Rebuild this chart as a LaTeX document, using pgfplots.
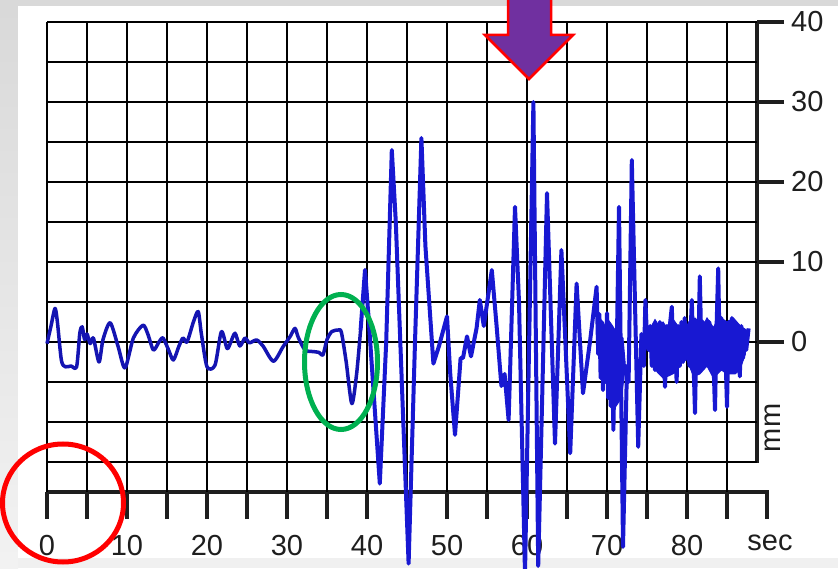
\documentclass[border=0pt]{standalone}
\usepackage{pgfplots}
\pgfplotsset{compat=1.18}
\usepackage{fontspec}
\setmainfont{Liberation Sans}
\definecolor{bggray}{HTML}{D9D9D9}
\definecolor{wave}{RGB}{24,24,210}
\definecolor{arrowpurple}{HTML}{7030A0}
\definecolor{ringgreen}{HTML}{00B050}
\definecolor{ringred}{HTML}{FF0000}
\definecolor{labelgray}{HTML}{1E1E1E}
\begin{document}
\begin{tikzpicture}[x=1pt,y=1pt]
\path[use as bounding box] (0,0) rectangle (838,568);
\clip (0,0) rectangle (838,568);
% background
\fill[bggray] (0,0) rectangle (838,568);
\shade[top color=bggray, bottom color=white!95!black] (0,0) rectangle (18,562);
\fill[white!94!black] (18,0) rectangle (838,10);
\fill[white] (18,10) rectangle (838,562);
% axis lines that pgfplots does not draw here
\draw[line width=4.5pt, labelgray] (47,76) -- (769.25,76);
\draw[line width=4pt, labelgray] (767,78) -- (767,49);
\draw[line width=4.5pt, labelgray] (757,547) -- (757,105);
\node[anchor=base, inner sep=0pt, text=labelgray, font=\fontsize{29}{34}\selectfont] at (770,18) {sec};
\node[rotate=90, inner sep=0pt, text=labelgray, font=\fontsize{29}{34}\selectfont] at (773,140) {mm};

\begin{axis}[
  scale only axis, width=710pt, height=470pt,
  at={(47pt,76pt)}, anchor=south west,
  xmin=0, xmax=88.75, ymin=-18.75, ymax=40,
  xtick={0,5,...,85},
  xticklabels={0,,10,,20,,30,,40,,50,,60,,70,,80,},
  ytick={0,10,...,40},
  yticklabels={0,10,20,30,40},
  extra y ticks={-15,-10,-5,5,15,25,35},
  extra y tick labels={},
  extra y tick style={grid=major, major tick length=0pt},
  xtick pos=bottom, ytick pos=right,
  xticklabel pos=lower, yticklabel pos=right,
  tick align=outside,
  major tick length=27pt,
  tick style={line width=4pt, draw=labelgray},
  grid=major, grid style={black, line width=2pt},
  axis line style={draw=none},
  xticklabel style={anchor=north, inner sep=0pt, yshift=-16pt, text=labelgray, font=\fontsize{29}{34}\selectfont},
  yticklabel style={anchor=west, inner sep=0pt, xshift=7pt, text=labelgray, font=\fontsize{29}{34}\selectfont},
  clip=false,
]
% quiet part: smooth oscillations
\addplot[wave!85!black, line width=3.5pt, line join=round, smooth, tension=0.45, mark=none] coordinates {
(0.0,-0.2) (0.5,2.0) (1.0,4.2) (1.3,2.5) (1.8,-2.3) (2.3,-3.1) (3.0,-3.0) (3.7,-3.1)
(4.1,1.1) (4.4,1.9) (4.7,0.3) (5.0,1.0) (5.4,-0.2) (5.8,0.5) (6.5,-2.5) (7.0,0.3)
(7.9,2.4) (8.9,-0.6) (9.75,-3.25) (10.8,0.5) (12.0,2.1) (12.6,1.0) (13.3,-1.0)
(14.0,0.0) (14.5,0.5) (15.2,-1.0) (15.8,-2.25) (16.5,-0.5) (17.0,0.5) (17.5,0.0)
(18.3,2.5) (18.9,3.8) (19.3,1.0) (20.0,-3.1) (21.0,-2.9) (21.8,1.3) (22.5,-0.8)
(22.9,-0.2) (23.5,1.1) (24.1,-0.5) (24.75,0.5) (25.3,-0.1) (26.2,0.25) (27.0,-0.5)
(28.3,-2.4) (29.5,-0.6) (30.4,0.7) (31.0,1.7) (31.4,0.6) (32.25,-1.0) (33.3,-1.2)
(34.0,-1.3) (34.5,-1.6) (35.0,0.3) (35.6,1.3) (36.4,1.5) (36.8,1.2) (37.4,-2.5)
(38.1,-7.7) (38.7,-4.0) (39.2,1.5)
};
% strong motion
\addplot[wave, line width=4pt, line join=round, mark=none] coordinates {
(39.2,1.5) (39.75,9.0) (40.2,3.0) (41.6,-17.7) (42.4,0.0)
(43.1,24.0) (43.6,15.0) (45.2,-27.7) (46.0,0.0) (46.8,25.5) (47.3,12.0) (48.3,-2.7)
(49.0,-0.5) (50.0,3.2) (50.4,-3.9) (51.0,-11.6) (51.7,-2.0) (52.0,-2.0) (52.5,0.7)
(53.0,-1.8) (53.7,1.75) (54.1,5.25) (54.6,2.0) (55.6,9.0) (56.2,2.0) (56.8,-5.5)
(57.2,-4.0) (57.7,-9.75) (58.5,16.9) (59.0,5.0) (59.75,-29.0) (60.8,30.0)
(61.4,-28.0) (62.5,18.6) (63.5,-12.7) (64.3,11.5) (65.4,-13.9) (66.2,7.3)
(67.0,-6.4) (67.9,0.25) (68.7,6.9) (68.9,-1.5) (69.05,3.5) (69.2,-4.5) (69.35,2.5)
(69.5,-6.0) (69.65,1.5) (69.8,-5.0) (70.0,3.6) (70.15,-7.0) (70.3,0.5) (70.45,-8.0)
(70.6,-1.0) (70.8,-11.0) (70.95,-2.0) (71.1,-7.5) (71.25,1.0) (71.5,16.9)
(72.0,-25.6) (72.5,-3.0) (72.7,-5.0) (73.1,22.75) (73.9,-13.1) (74.3,1.0)
(74.6,-3.0) (74.8,5.25) (75.0,0.5) (75.2,-1.0) (75.4,2.0) (75.6,-3.0) (75.8,1.5)
(76.0,-3.5) (76.2,1.0) (76.4,-2.5) (76.6,2.5) (76.8,-4.0) (77.0,1.5) (77.25,-5.6)
(77.5,2.0) (77.7,-3.0) (77.9,2.5) (78.1,4.4) (78.3,-2.0) (78.5,1.5) (78.7,-5.0)
(78.9,2.0) (79.1,-3.0) (79.3,2.5) (79.5,-2.5) (79.7,3.0) (79.9,-1.5) (80.1,2.0)
(80.3,-3.0) (80.6,5.25) (80.8,-2.0) (81.0,-8.9) (81.2,2.0) (81.4,-2.0) (81.6,8.2)
(81.8,-1.0) (82.0,2.5) (82.2,-3.0) (82.4,1.5) (82.6,-2.5) (82.8,2.5) (83.0,-3.0)
(83.2,1.0) (83.5,-8.5) (83.7,2.0) (83.9,9.2) (84.1,-2.0) (84.3,3.0) (84.5,-3.0)
(84.7,2.5) (85.0,-8.1) (85.2,2.5) (85.4,-3.0) (85.6,3.0) (85.8,-2.5) (86.0,2.5)
(86.2,-3.0) (86.4,2.0) (86.6,-4.3) (86.8,2.0) (87.0,-2.0) (87.2,1.5) (87.4,-1.0)
(87.7,1.7)
};
% dense cores of the trace
\addplot[fill=wave, draw=wave, line width=1pt, mark=none] coordinates {
(69.3,1.0) (70.0,3.0) (70.7,2.0) (71.3,1.0) (72.0,0.5) (72.3,-3.0) (71.8,-7.0)
(71.0,-8.2) (70.3,-6.5) (69.6,-3.5) (69.3,-1.0) (69.3,1.0)
};
\addplot[fill=wave, draw=wave, line width=1pt, mark=none] coordinates {
(75.3,1.5) (76.0,2.8) (76.5,2.0) (77.0,2.5) (77.7,1.5) (78.3,2.8) (79.0,1.8)
(79.6,1.0) (80.2,2.5) (81.0,3.0) (82.0,2.0) (82.5,3.0) (83.3,1.8) (84.0,3.2)
(85.0,2.5) (85.8,3.0) (86.5,2.2) (87.3,1.5) (87.3,-1.5) (86.6,-3.5) (86.0,-4.0)
(85.0,-4.0) (84.3,-3.5) (83.3,-4.5) (82.5,-3.0) (81.6,-4.0) (80.8,-4.3) (80.0,-2.2)
(79.3,-2.5) (78.6,-3.8) (77.8,-4.2) (77.0,-4.5) (76.3,-3.8) (75.6,-2.5) (75.3,1.5)
};
\end{axis}

% annotations
\draw[ringred, line width=5pt] (63,65) ellipse [x radius=60.5, y radius=59];
\draw[ringgreen, line width=5pt] (341,206) ellipse [x radius=36.5, y radius=67.5];
\filldraw[fill=arrowpurple, draw=ringred, line width=2.5pt, line join=miter]
  (508,575) -- (551,575) -- (551,533) -- (573,533) -- (529,489) -- (485,533) -- (508,533) -- cycle;
\end{tikzpicture}
\end{document}
